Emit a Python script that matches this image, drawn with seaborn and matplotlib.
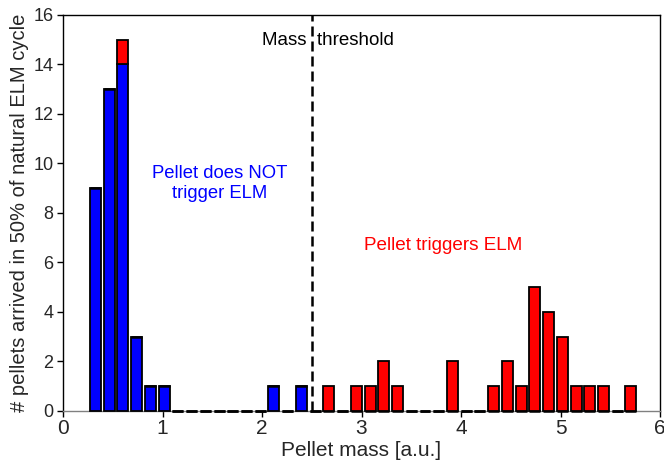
import numpy as np
import pandas as pd
import matplotlib
matplotlib.use("Agg")
import matplotlib.pyplot as plt
import seaborn as sns

# Histogram of pellet masses: 40 bins, counts split by whether the pellet triggered an ELM
bin_start = 0.257
bin_width = 0.138
n_bins = 40

no_trigger = [9, 13, 14, 3, 1, 1, 0, 0, 0, 0, 0, 0, 0, 1, 0, 1, 0, 0, 0, 0,
              0, 0, 0, 0, 0, 0, 0, 0, 0, 0, 0, 0, 0, 0, 0, 0, 0, 0, 0, 0]
trigger = [0, 0, 1, 0, 0, 0, 0, 0, 0, 0, 0, 0, 0, 0, 0, 0, 0, 1, 0, 1,
           1, 2, 1, 0, 0, 0, 2, 0, 0, 1, 2, 1, 5, 4, 3, 1, 1, 1, 0, 1]

mass_threshold = 2.5
x_ticks = [0, 1, 2, 3, 4, 5, 6]
y_ticks = [0, 2, 4, 6, 8, 10, 12, 14, 16]

edges = [bin_start + bin_width * k for k in range(n_bins + 1)]
centers = [e + bin_width / 2 for e in edges[:-1]]

df = pd.concat([
    pd.DataFrame({"mass": centers, "count": no_trigger, "outcome": "no"}),
    pd.DataFrame({"mass": centers, "count": trigger, "outcome": "yes"}),
], ignore_index=True)

sns.set_style("ticks")
plt.rcParams["font.family"] = ["Liberation Sans", "DejaVu Sans"]

fig = plt.figure(figsize=(6.64, 4.68), dpi=100)
ax = fig.add_axes([0.0949, 0.1218, 0.8991, 0.8462])

sns.histplot(data=df, x="mass", weights="count", hue="outcome",
             hue_order=["yes", "no"], multiple="stack", bins=edges,
             shrink=0.8, palette={"no": "#0000ff", "yes": "#ff0000"},
             edgecolor="black", linewidth=1.3, alpha=1, legend=False, ax=ax)

# let the empty bins show their full edge line along the baseline, above the spine
for patch in ax.patches:
    patch.set_clip_on(False)
    patch.set_zorder(2.7)
    if patch.get_height() == 0:
        patch.set_linewidth(1.8)

ax.axvline(mass_threshold, color="black", linestyle=(0, (4, 2)), linewidth=1.8, zorder=3)

ax.text(2.0, 14.95, "Mass  threshold", fontsize=13.5, ha="left", va="center", color="black")
ax.text(1.57, 9.2, "Pellet does NOT\ntrigger ELM", fontsize=13.3, ha="center", va="center",
        color="#0000ff", linespacing=1.25)
ax.text(3.816, 6.69, "Pellet triggers ELM", fontsize=13.6, ha="center", va="center",
        color="#ff0000")

ax.set_xlim(0, 6)
ax.set_ylim(0, 16)
ax.set_xticks(x_ticks)
ax.set_yticks(y_ticks)
ax.tick_params(axis="x", labelsize=15, direction="out", length=4, width=1, color="black", pad=2)
ax.tick_params(axis="y", labelsize=13, direction="out", length=4, width=1, color="black", pad=3)

ax.set_xlabel("Pellet mass [a.u.]", fontsize=15, labelpad=2)
ax.set_ylabel("# pellets arrived in 50% of natural ELM cycle", fontsize=14.5, labelpad=3)

for side in ["left", "right", "top"]:
    ax.spines[side].set_visible(True)
    ax.spines[side].set_color("black")
    ax.spines[side].set_linewidth(1.0)
ax.spines["bottom"].set_color("0.5")
ax.spines["bottom"].set_linewidth(1.0)

fig.savefig("out.png", dpi=100)
